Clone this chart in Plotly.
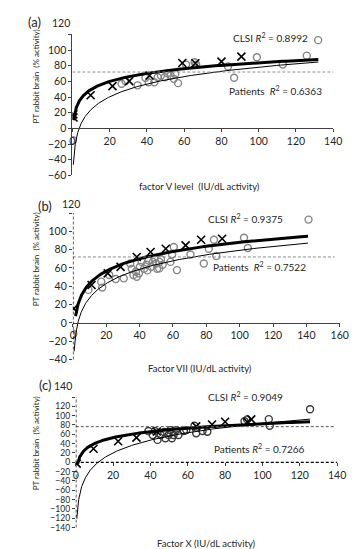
import numpy as np
import plotly.graph_objects as go

W, H = 362, 549

# ---------------- data ----------------
# Panel (a): factor V
a_clsi_x = [0.5, 0.6, 9.8, 21.5, 30.5, 41.4, 59, 66, 80, 90.7]
a_clsi_y = [18, 14, 42.3, 54, 60.4, 67.6, 83.5, 83.2, 85.3, 91.6]
a_pat_x = [0.3, 26.4, 28.5, 35, 39.2, 40.9, 44, 45.8, 47.5, 49.6, 51, 52.7, 54.4, 55.2,
           56.7, 61, 65.6, 66.4, 83.5, 86.8, 99, 112.9, 125.8, 131.9]
a_pat_y = [-15, 57, 60.4, 55, 64.6, 59, 59, 65.4, 67.6, 65.4, 70.5, 67.6, 63.3, 69.5,
           57.8, 81.5, 84.4, 81.5, 79, 64.6, 90.8, 81.5, 92.9, 112.7]

# Panel (b): factor VII
b_clsi_x = [0.5, 11.2, 20.9, 28.6, 38.3, 46.6, 55.7, 67.6, 76.9, 89.5]
b_clsi_y = [15.5, 41.4, 54, 61.2, 72, 77.4, 81, 84.6, 90.8, 91.9]
b_pat_x = [0.3, 9.3, 17, 17.6, 21.8, 25.7, 30.5, 34.4, 35.3, 36.3, 37.8, 38.3, 39.6, 40.2,
           41.2, 42.7, 44.1, 44.7, 45.4, 47, 48, 48.9, 49.9, 50.5, 51.9, 52.8, 53.8, 51.8,
           58.5, 59.5, 60.5, 62.4, 70.5, 78.5, 81.5, 84.6, 86, 102.6, 104.9, 141.3]
b_pat_y = [-12, 36, 45, 38.5, 52.2, 47.9, 48.6, 64.9, 59, 52.2, 55.8, 50.4, 54, 61.2,
           66.6, 59, 63.4, 57.3, 68.1, 61.2, 66.6, 70.2, 64.8, 59, 66.6, 69.5, 63.4, 59.5,
           66.6, 74.6, 82.8, 57.6, 74.6, 64.9, 81, 90.8, 73.1, 93, 81.7, 112.8]

# Panel (c): factor X
c_clsi_x = [0.5, 9.5, 22.7, 32.5, 43.4, 64.5, 73, 80, 92, 94]
c_clsi_y = [-3, 29, 45, 53, 66, 77, 81, 87, 86, 92]
c_pat_x = [38.9, 41.2, 42.4, 43.8, 45.5, 47.3, 48, 49.7, 50.6, 51.5, 52.4, 53.8, 55, 57.9,
           59.2, 63.6, 64.5, 67.9, 70.5, 90.4, 91.8, 103.4, 103.9, 125.5]
c_pat_y = [67, 58.5, 67, 48, 58.5, 65, 51.5, 58.5, 69, 51.5, 58.5, 69, 58.5, 67,
           69, 78.5, 62, 67, 65.6, 88, 92, 92.5, 78.5, 113.7]

# logarithmic trendlines y = k*ln(x) + c  (k, c, x_start, x_end)
a_clsi_fit = [14.8, 15.7, 0.7, 132]
a_pat_fit = [23.5, -30.0, 0.5, 132]
b_clsi_fit = [19.5, -1.8, 1.6, 141]
b_pat_fit = [22.6, -24.7, 0.75, 141]
c_clsi_fit = [18.5, -2.4, 0.9, 125.5]
c_pat_fit = [39.3, -97.4, 0.55, 125.5]

ref_levels = [72, 72, 76.4]
r2_clsi = ["0.8992", "0.9375", "0.9049"]
r2_pat = ["0.6363", "0.7522", "0.7266"]
x_titles = ["factor V level  (IU/dL activity)", "Factor VII (IU/dL activity)",
            "Factor X (IU/dL activity)"]
y_title = "PT rabbit brain  (% activity)"
panel_labels = ["(a)", "(b)", "(c)"]

x_ranges = [[0, 140], [0, 160], [0, 140]]
y_ranges = [[-60, 120], [-40, 120], [-140, 140]]
ref_ends = [140, 157, 139]

# ---------------- layout geometry (pixels) ----------------
def fx(px):
    return px / W

def fy(py):
    return 1 - py / H

x_dom_px = [(63.5, 333.3), (64, 340), (67, 337.3)]
y_dom_px = [(169.3, 26.7), (355.3, 207.3), (525.3, 393.3)]
top_label_px = [(52, 15), (62, 198), (54, 382)]
ytick_size = [10.5, 10.5, 8.5]
pat_color = ["#858585", "#858585", "#3a3a3a"]

FONT = "Lato"
TXT = "#262626"

fig = go.Figure()

panels = [
    (a_clsi_x, a_clsi_y, a_pat_x, a_pat_y, a_clsi_fit, a_pat_fit),
    (b_clsi_x, b_clsi_y, b_pat_x, b_pat_y, b_clsi_fit, b_pat_fit),
    (c_clsi_x, c_clsi_y, c_pat_x, c_pat_y, c_clsi_fit, c_pat_fit),
]

shapes = []
annotations = []
for i, (cx, cy, px_, py_, cf, pf) in enumerate(panels):
    n = "" if i == 0 else str(i + 1)
    xr, yr = "x" + n, "y" + n
    # patients
    fig.add_trace(go.Scatter(x=px_, y=py_, mode="markers", xaxis=xr, yaxis=yr,
                             marker=dict(symbol="circle-open", size=7, color=pat_color[i],
                                         line=dict(width=1.4, color=pat_color[i]))))
    # patient trendline (thin)
    xs = np.geomspace(pf[2], pf[3], 300)
    fig.add_trace(go.Scatter(x=xs, y=pf[0] * np.log(xs) + pf[1], mode="lines",
                             xaxis=xr, yaxis=yr, line=dict(color="black", width=1)))
    # CLSI
    fig.add_trace(go.Scatter(x=cx, y=cy, mode="markers", xaxis=xr, yaxis=yr,
                             marker=dict(symbol="x-thin-open", size=8, color="black",
                                         line=dict(width=1.6, color="black"))))
    xs = np.geomspace(cf[2], cf[3], 300)
    fig.add_trace(go.Scatter(x=xs, y=cf[0] * np.log(xs) + cf[1], mode="lines",
                             xaxis=xr, yaxis=yr, line=dict(color="black", width=3)))

    # reference dashed line
    shapes.append(dict(type="line", xref=xr, yref=yr, x0=0, x1=ref_ends[i],
                       y0=ref_levels[i], y1=ref_levels[i],
                       line=dict(color="#8c8c8c" if i < 2 else "#555555", width=1,
                                 dash="3px,2px")))

    ymin, ymax = y_ranges[i]
    d0, d1 = fy(y_dom_px[i][0]), fy(y_dom_px[i][1])
    zero_pos = d0 + (0 - ymin) / (ymax - ymin) * (d1 - d0)

    yvals = list(range(ymin, ymax + 1, 20))
    ytext = [str(v).replace("-", "\u2212") for v in yvals]
    ytext[-1] = ""  # top label drawn slightly above, as in the original figure

    solid_x = i < 2
    solid_y = i == 0
    fig.update_layout(**{
        ("xaxis" + n): dict(domain=[fx(x_dom_px[i][0]), fx(x_dom_px[i][1])],
                            range=x_ranges[i], dtick=20, tick0=0,
                            anchor="free", position=zero_pos,
                            showline=solid_x, linecolor="#404040", linewidth=1,
                            ticks="outside", ticklen=3, tickcolor="#404040",
                            showgrid=False, zeroline=False,
                            tickfont=dict(family=FONT, size=10.5, color=TXT)),
        ("yaxis" + n): dict(domain=[d0, d1], range=y_ranges[i],
                            tickvals=yvals, ticktext=ytext,
                            anchor=xr, showline=solid_y, linecolor="#404040",
                            linewidth=1, ticks="outside", ticklen=3,
                            tickcolor="#404040", showgrid=False, zeroline=False,
                            tickfont=dict(family=FONT, size=ytick_size[i], color=TXT)),
    })
    tx, ty = top_label_px[i]
    annotations.append(dict(x=fx(tx), y=fy(ty), xref="paper", yref="paper",
                            text=str(ymax), showarrow=False, xanchor="center",
                            yanchor="middle",
                            font=dict(family=FONT, size=10.5, color=TXT)))
    if not solid_y:
        shapes.append(dict(type="line", xref=xr, yref=yr + " domain", x0=0, x1=0,
                           y0=0, y1=1, line=dict(color="black", width=1.3,
                                                 dash="3px,2px")))
    if not solid_x:
        shapes.append(dict(type="line", xref=xr + " domain", yref=yr, x0=0, x1=1,
                           y0=0, y1=0, line=dict(color="black", width=1.3,
                                                 dash="3px,2px")))

ann_pos = {
    "clsi": [(268, 30), (243, 213), (243, 393)],
    "pat": [(274, 83), (257, 261), (257, 445)],
    "xt": [(195, 180), (195, 364), (202, 541)],
    "yt": [(26, 69), (26, 254), (26, 440)],
    "lab": [(24, 14), (35, 200), (36, 381)],
}
for i in range(3):
    gap = "  " if i < 2 else " "
    items = [
        ("clsi", "CLSI <i>R</i><sup>2</sup> = " + r2_clsi[i], 10, 0),
        ("pat", "Patients" + gap + "<i>R</i><sup>2</sup> = " + r2_pat[i], 10, 0),
        ("xt", x_titles[i], 9.5, 0),
        ("yt", y_title, 8, -90),
        ("lab", panel_labels[i], 13, 0),
    ]
    for key, text, size, ang in items:
        x, y = ann_pos[key][i]
        annotations.append(dict(x=fx(x), y=fy(y), xref="paper", yref="paper",
                                text=text, showarrow=False, textangle=ang,
                                xanchor="center", yanchor="middle",
                                font=dict(family=FONT, size=size, color=TXT)))

fig.update_layout(width=W, height=H, margin=dict(l=0, r=0, t=0, b=0),
                  paper_bgcolor="white", plot_bgcolor="white", showlegend=False,
                  shapes=shapes, annotations=annotations)

fig.write_html("out.html")
